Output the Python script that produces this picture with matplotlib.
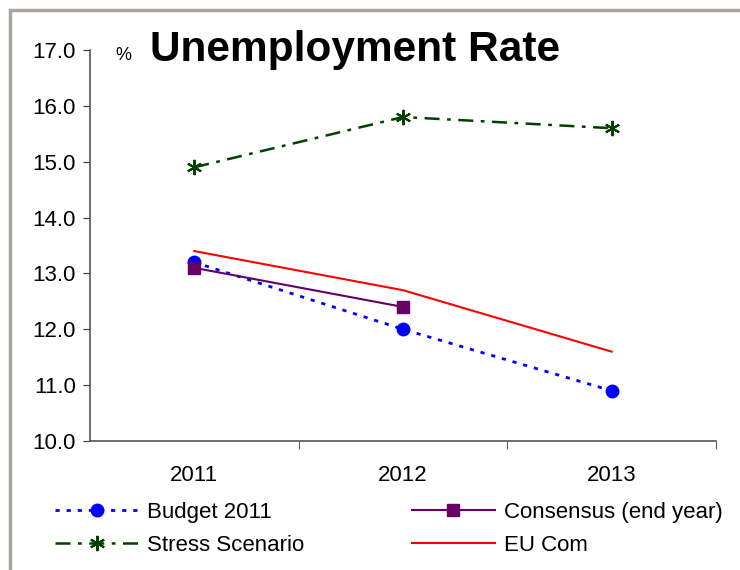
import matplotlib
matplotlib.use('Agg')
import matplotlib.pyplot as plt
from matplotlib.patches import Rectangle

# data (% of labour force)
years = ['2011', '2012', '2013']
budget_2011 = [13.2, 12.0, 10.9]
consensus = [13.1, 12.4]
stress = [14.9, 15.8, 15.6]
eu_com = [13.4, 12.7, 11.6]
yticks = [10.0, 11.0, 12.0, 13.0, 14.0, 15.0, 16.0, 17.0]

plt.rcParams['font.family'] = ['Liberation Sans', 'DejaVu Sans']

fig = plt.figure(figsize=(7.4, 5.7), dpi=100)

# outer frame of the chart area
fig.patches.append(Rectangle((10 / 740, -0.1), 1.2, (570 - 10) / 570 + 0.1,
                             transform=fig.transFigure, fill=False,
                             edgecolor='#aaa49c', linewidth=2.5))

ax = fig.add_axes([90 / 740, (570 - 441) / 570, (716 - 90) / 740, (441 - 50) / 570])

x = list(range(len(years)))
l1, = ax.plot(x, budget_2011, color='#0000ff', linestyle=(0, (1.5, 2.5)), linewidth=2,
              marker='o', markersize=9, label='Budget 2011')
l2, = ax.plot(x[:len(consensus)], consensus, color='#660066', linewidth=1.5,
              marker='s', markersize=8, label='Consensus (end year)')
l3, = ax.plot(x, stress, color='#004000', linestyle=(0, (6, 3, 1.5, 3)), linewidth=1.8,
              marker=(6, 2, 0), markersize=11, markeredgewidth=1.5, label='Stress Scenario')
l4, = ax.plot(x, eu_com, color='#ff0000', linewidth=1.5, label='EU Com')

ax.set_xlim(-0.5, len(years) - 0.5)
ax.set_ylim(10, 17)
ax.set_yticks(yticks)
ax.set_yticklabels([f'{v:.1f}' for v in yticks], fontsize=16)
ax.set_xticks(x)
ax.set_xticklabels(years, fontsize=16)
ax.tick_params(axis='x', length=0, pad=17)
ax.set_xticks([i + 0.5 for i in x], minor=True)
ax.tick_params(axis='x', which='minor', length=6, color='#333333')
ax.tick_params(axis='y', length=5, color='#333333', pad=5)

for s in ['top', 'right']:
    ax.spines[s].set_visible(False)
for s in ['left', 'bottom']:
    ax.spines[s].set_color('#555555')
    ax.spines[s].set_linewidth(1.2)

fig.text(115 / 740, 1 - 55 / 570, '%', fontsize=13, va='center')
fig.text(150 / 740, 1 - 50 / 570, 'Unemployment Rate', fontsize=30.5,
         fontweight='bold', va='center')

# legend fills row by row: Budget, Consensus / Stress, EU Com
fig.legend([l1, l3, l2, l4], [l1.get_label(), l3.get_label(), l2.get_label(), l4.get_label()],
           loc='upper left', bbox_to_anchor=(55 / 740, 1 - 502 / 570), ncol=2,
           frameon=False, fontsize=16, handlelength=3.75, numpoints=1,
           columnspacing=4.82, labelspacing=0.53, handletextpad=0.4,
           borderpad=0, borderaxespad=0)

fig.savefig('out.png', dpi=100, facecolor='white')
